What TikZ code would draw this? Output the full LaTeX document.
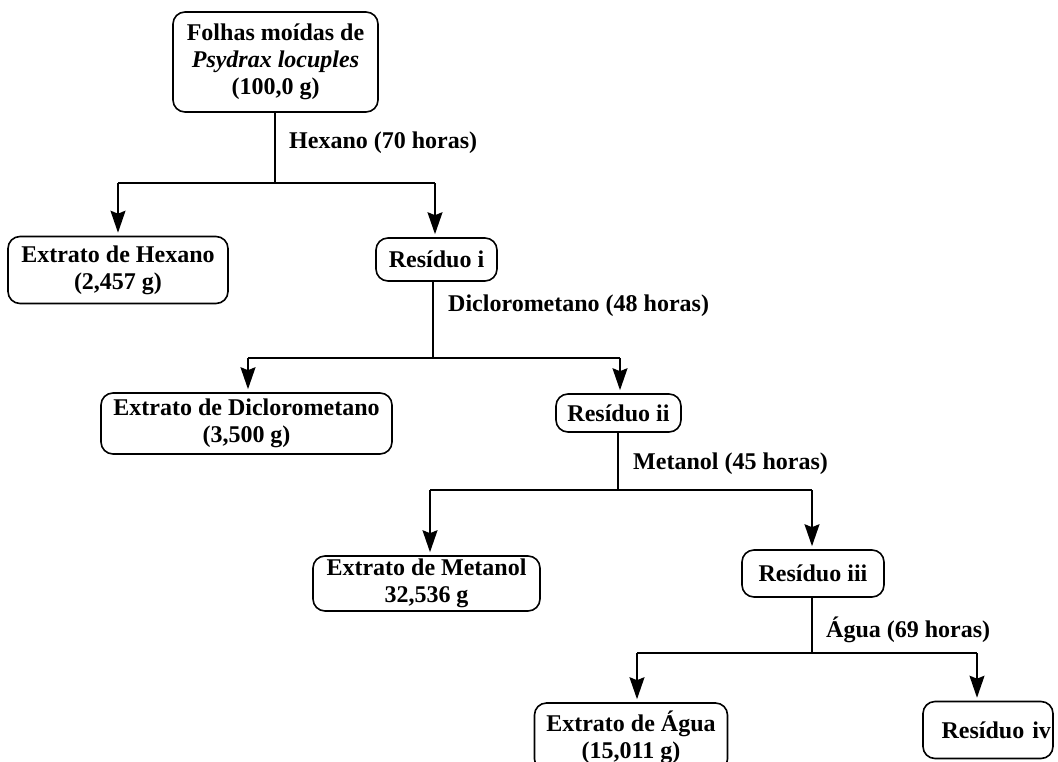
\documentclass[tikz,border=0pt]{standalone}
\usepackage{fontspec}
\setmainfont{Liberation Serif}
\usetikzlibrary{arrows.meta}
\begin{document}
\begin{tikzpicture}[x=1pt,y=-1pt,
  box/.style={draw,line width=1.6pt,rounded corners=12pt,align=center,inner sep=0pt,
    font=\fontsize{24}{27}\selectfont\bfseries},
  lbl/.style={anchor=west,inner sep=0pt,font=\fontsize{24}{27}\selectfont\bfseries},
  ln/.style={line width=1.6pt},
  arr/.style={line width=1.6pt,-{Stealth[length=22pt,width=15pt,inset=3pt]},shorten >=3pt}]
\useasboundingbox (0,0) rectangle (1058,761);
\node[box,minimum width=205pt,minimum height=100pt] (top) at (275.5,62) {Folhas moídas de\\\textit{Psydrax locuples}\\(100,0 g)};
\node[box,minimum width=220pt,minimum height=67pt] (hex) at (118,270) {Extrato de Hexano\\(2,457 g)};
\node[box,minimum width=121pt,minimum height=43pt] (r1) at (436.5,259.5) {Resíduo i};
\node[box,minimum width=291pt,minimum height=61pt] (dcm) at (246.5,423.5) {Extrato de Diclorometano\\(3,500 g)};
\node[box,minimum width=125pt,minimum height=38pt] (r2) at (618.5,413) {Resíduo ii};
\node[box,minimum width=227pt,minimum height=55pt] (met) at (426.5,583.5) {Extrato de Metanol\\32,536 g};
\node[box,minimum width=142pt,minimum height=47pt] (r3) at (813,573.5) {Resíduo iii};
\node[box,minimum width=193pt,minimum height=68pt] (agua) at (631,737) {Extrato de Água\\(15,011 g)};
\node[box,minimum width=130pt,minimum height=57pt,text width=126pt,align=right] (r4) at (988,730) {Resíduo iv};

\node[lbl] (l1) at (289,143) {Hexano (70 horas)};
\node[lbl] (l2) at (448,306) {Diclorometano (48 horas)};
\node[lbl] (l3) at (633,464) {Metanol (45 horas)};
\node[lbl] (l4) at (826,630) {Água (69 horas)};

\coordinate (j1) at (275,183); \coordinate (j1l) at (118,183); \coordinate (j1r) at (435,183);
\coordinate (j2) at (433,358); \coordinate (j2l) at (248,358); \coordinate (j2r) at (620,358);
\coordinate (j3) at (618,490); \coordinate (j3l) at (430,490); \coordinate (j3r) at (812,490);
\coordinate (j4) at (812,653); \coordinate (j4l) at (637,653); \coordinate (j4r) at (977,653);

\draw[ln] (top.south -| j1) -- (j1);
\draw[ln] (j1l) -- (j1r);
\draw[arr] (j1l) -- (j1l |- hex.north);
\draw[arr] (j1r) -- (j1r |- r1.north);

\draw[ln] (r1.south -| j2) -- (j2);
\draw[ln] (j2l) -- (j2r);
\draw[arr] (j2l) -- (j2l |- dcm.north);
\draw[arr] (j2r) -- (j2r |- r2.north);

\draw[ln] (r2.south -| j3) -- (j3);
\draw[ln] (j3l) -- (j3r);
\draw[arr] (j3l) -- (j3l |- met.north);
\draw[arr] (j3r) -- (j3r |- r3.north);

\draw[ln] (r3.south -| j4) -- (j4);
\draw[ln] (j4l) -- (j4r);
\draw[arr] (j4l) -- (j4l |- agua.north);
\draw[arr] (j4r) -- (j4r |- r4.north);
\end{tikzpicture}
\end{document}
